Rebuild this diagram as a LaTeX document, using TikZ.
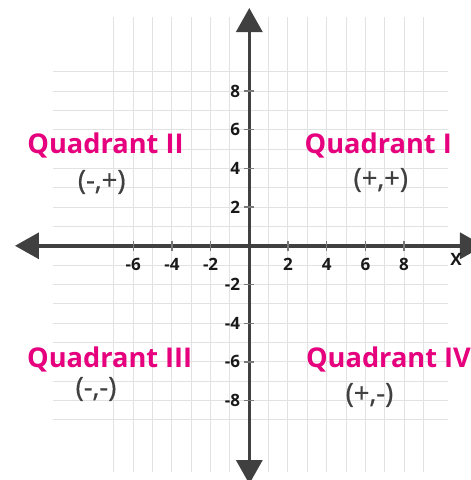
\documentclass[tikz,border=0pt]{standalone}
\usepackage{fontspec}
\setmainfont{Open Sans}
\newfontfamily\signfont[FakeBold=0.6]{Open Sans}
\usetikzlibrary{arrows.meta}
\definecolor{axiscol}{HTML}{404040}
\definecolor{gridcol}{HTML}{E2E2E2}
\definecolor{tickcol}{HTML}{7A7A7A}
\definecolor{quadcol}{HTML}{E6007E}
\definecolor{signcol}{HTML}{404040}
\tikzset{
  gridline/.style={draw=gridcol, line width=1pt},
  axisline/.style={draw=axiscol, line width=3.4pt, -{Triangle[length=24pt,width=26pt]}},
  tickmark/.style={draw=tickcol, line width=1.3pt},
  ticklab/.style={inner sep=0pt, font=\bfseries\fontsize{17}{17}\selectfont, text=black!90},
  quadlab/.style={inner sep=0pt, anchor=base, font=\bfseries\fontsize{27.2}{27.2}\selectfont, text=quadcol},
  signlab/.style={inner sep=0pt, font=\signfont\fontsize{27.5}{27.5}\selectfont, text=signcol},
}
\begin{document}
\begin{tikzpicture}[x=19.35pt,y=19.35pt]
\clip (-249.3pt,-234.2pt) rectangle (221.7pt,245.8pt);
\fill[white] (-249.3pt,-234.2pt) rectangle (221.7pt,245.8pt);
% grid
\foreach \i in {-7,...,9} \draw[gridline] (\i,-11.69) -- (\i,11.84);
\foreach \j in {-9,...,9} \draw[gridline] (-10.13,\j) -- (10.25,\j);
% axes
\coordinate (o) at (0,0);
\coordinate (xl) at (-234.3pt,0);
\coordinate (xr) at (234.7pt,0);
\coordinate (yt) at (0,237.8pt);
\coordinate (yb) at (0,-238.2pt);
\draw[axisline] (o) -- (xl);
\draw[axisline] (o) -- (xr);
\draw[axisline] (o) -- (yt);
\draw[axisline] (o) -- (yb);
% ticks and labels
\foreach \v in {-6,-4,-2,2,4,6,8} {
  \draw[tickmark] (\v,0) ++(0,-5pt) -- ++(0,10pt);
  \node[ticklab] (xt\v) at ([yshift=-18.2pt]\v,0) {\v};
}
\foreach \v in {-8,-6,-4,-2,2,4,6,8} {
  \draw[tickmark] (0,\v) ++(-5pt,0) -- ++(10pt,0);
  \node[ticklab, anchor=east] (yt\v) at ([xshift=-9pt]0,\v) {\v};
}
\node[ticklab] (xlab) at (206.7pt,-13.2pt) {X};
% quadrant labels
\node[quadlab] (q2) at (-143.8pt,92.8pt) {Quadrant II};
\node[quadlab] (q1) at (129pt,92.8pt) {Quadrant I};
\node[quadlab] (q3) at (-139.6pt,-121.5pt) {Quadrant III};
\node[quadlab] (q4) at (139.2pt,-121.5pt) {Quadrant IV};
\node[signlab] (s2) at (-147.6pt,63.8pt) {(-,+)};
\node[signlab] (s1) at (131.5pt,65.8pt) {(+,+)};
\node[signlab] (s3) at (-153.3pt,-143.2pt) {(-,-)};
\node[signlab] (s4) at (120.2pt,-149.2pt) {(+,-)};
\end{tikzpicture}
\end{document}
